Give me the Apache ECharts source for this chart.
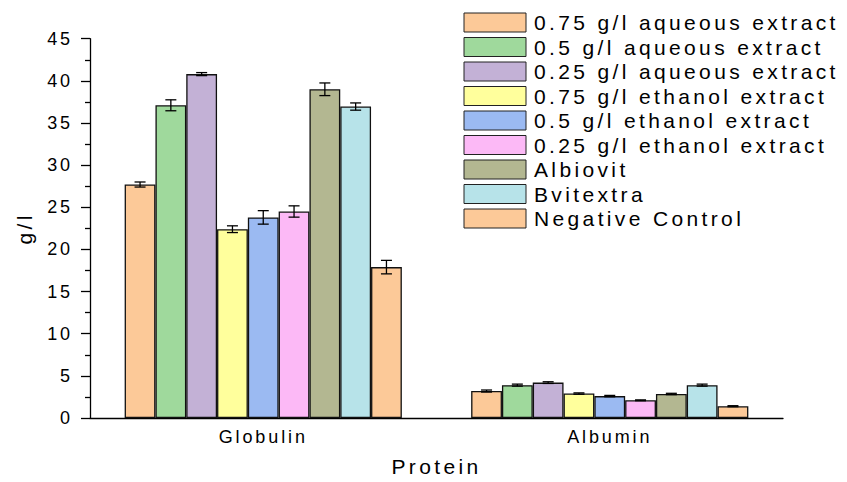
<!DOCTYPE html>
<html>
<head>
<meta charset="utf-8">
<script src="https://cdn.jsdelivr.net/npm/echarts@6/dist/echarts.min.js"></script>
<style>
  html, body { margin: 0; padding: 0; background: #fff; }
  #chart { width: 847px; height: 482px; }
  #chart text { letter-spacing: 0.16em; }
</style>
</head>
<body>
<div id="chart"></div>
<script>
// ---- Data ----
const categories = ['Globulin', 'Albumin'];
const seriesNames = [
  '0.75 g/l aqueous extract',
  '0.5 g/l aqueous extract',
  '0.25 g/l aqueous extract',
  '0.75 g/l ethanol extract',
  '0.5 g/l ethanol extract',
  '0.25 g/l ethanol extract',
  'Albiovit',
  'Bvitextra',
  'Negative Control'
];
const aqueous075 = [27.7, 3.2];
const aqueous05 = [37.1, 3.9];
const aqueous025 = [40.8, 4.2];
const ethanol075 = [22.4, 2.9];
const ethanol05 = [23.8, 2.6];
const ethanol025 = [24.5, 2.1];
const albiovit = [39.0, 2.85];
const bvitextra = [36.95, 3.9];
const negativeControl = [17.9, 1.4];

const aqueous075Err = [0.3, 0.12];
const aqueous05Err = [0.65, 0.12];
const aqueous025Err = [0.18, 0.1];
const ethanol075Err = [0.4, 0.08];
const ethanol05Err = [0.8, 0.08];
const ethanol025Err = [0.67, 0.05];
const albiovitErr = [0.75, 0.08];
const bvitextraErr = [0.43, 0.12];
const negativeControlErr = [0.8, 0.06];

const yTicks = [0, 5, 10, 15, 20, 25, 30, 35, 40, 45];

// ---- Build ----
const values = [aqueous075, aqueous05, aqueous025, ethanol075, ethanol05, ethanol025, albiovit, bvitextra, negativeControl];
const errors = [aqueous075Err, aqueous05Err, aqueous025Err, ethanol075Err, ethanol05Err, ethanol025Err, albiovitErr, bvitextraErr, negativeControlErr];
const colors = ['#FCC998', '#9FD99C', '#C3B1D6', '#FFFF9C', '#9BBAF2', '#FCB9F6', '#B3B791', '#B7E3E9', '#FCC998'];

const FONT = "'Liberation Sans', Arial, sans-serif";
const N = seriesNames.length;
const CAT_GAP = 0.2;

const series = [];
values.forEach((vals, si) => {
  series.push({
    type: 'bar',
    name: seriesNames[si],
    data: vals,
    barGap: '0%',
    barCategoryGap: (CAT_GAP * 100) + '%',
    itemStyle: { color: colors[si], borderColor: '#111', borderWidth: 1.3 },
    z: 2
  });
});
values.forEach((vals, si) => {
  series.push({
    type: 'custom',
    data: categories.map((c, i) => [i, vals[i], errors[si][i]]),
    encode: { x: 0, y: 1 },
    z: 5,
    silent: true,
    renderItem: function (params, api) {
      const ci = api.value(0), v = api.value(1), e = api.value(2);
      const band = api.size([1, 0])[0];
      const bw = band * (1 - CAT_GAP) / N;
      const off = (si - (N - 1) / 2) * bw;
      const top = api.coord([ci, v + e]);
      const bot = api.coord([ci, v - e]);
      const x = top[0] + off;
      const hc = 5.5;
      const st = { stroke: '#000', lineWidth: 1.3, fill: null };
      return {
        type: 'group',
        children: [
          { type: 'line', shape: { x1: x, y1: top[1], x2: x, y2: bot[1] }, style: st },
          { type: 'line', shape: { x1: x - hc, y1: top[1], x2: x + hc, y2: top[1] }, style: st },
          { type: 'line', shape: { x1: x - hc, y1: bot[1], x2: x + hc, y2: bot[1] }, style: st }
        ]
      };
    }
  });
});

const chart = echarts.init(document.getElementById('chart'), null, { renderer: 'svg' });
chart.setOption({
  animation: false,
  backgroundColor: '#fff',
  textStyle: { fontFamily: FONT },
  grid: { left: 90, right: 64, top: 38.7, bottom: 61.3, containLabel: false },
  legend: {
    data: seriesNames,
    orient: 'vertical',
    left: 463.5,
    top: 12,
    padding: 0,
    itemWidth: 62,
    itemHeight: 19,
    itemGap: 3.5,
    icon: 'rect',
    selectedMode: false,
    itemStyle: { borderColor: '#222', borderWidth: 1 },
    textStyle: { fontSize: 21, color: '#000', fontFamily: FONT, padding: [0, 0, 0, 3] }
  },
  xAxis: {
    type: 'category',
    data: categories,
    name: 'Protein',
    nameLocation: 'middle',
    nameGap: 38,
    nameTextStyle: { fontSize: 21, color: '#000', fontFamily: FONT },
    axisLine: { lineStyle: { color: '#000', width: 1.3 } },
    axisTick: { alignWithLabel: true, length: 6, lineStyle: { color: '#000', width: 1.3 } },
    axisLabel: { fontSize: 18, color: '#000', margin: 10, fontFamily: FONT },
    splitLine: { show: false }
  },
  yAxis: {
    type: 'value',
    min: yTicks[0],
    max: yTicks[yTicks.length - 1],
    interval: yTicks[1] - yTicks[0],
    name: 'g/l',
    nameLocation: 'middle',
    nameGap: 55,
    nameTextStyle: { fontSize: 21, color: '#000', fontFamily: FONT },
    axisLine: { show: true, lineStyle: { color: '#000', width: 1.3 } },
    axisTick: { show: true, length: 9, lineStyle: { color: '#000', width: 1.3 } },
    minorTick: { show: true, splitNumber: 2, length: 5, lineStyle: { color: '#000', width: 1.3 } },
    axisLabel: { fontSize: 18, color: '#000', margin: 17, fontFamily: FONT },
    splitLine: { show: false }
  },
  series: series
});
</script>
</body>
</html>
